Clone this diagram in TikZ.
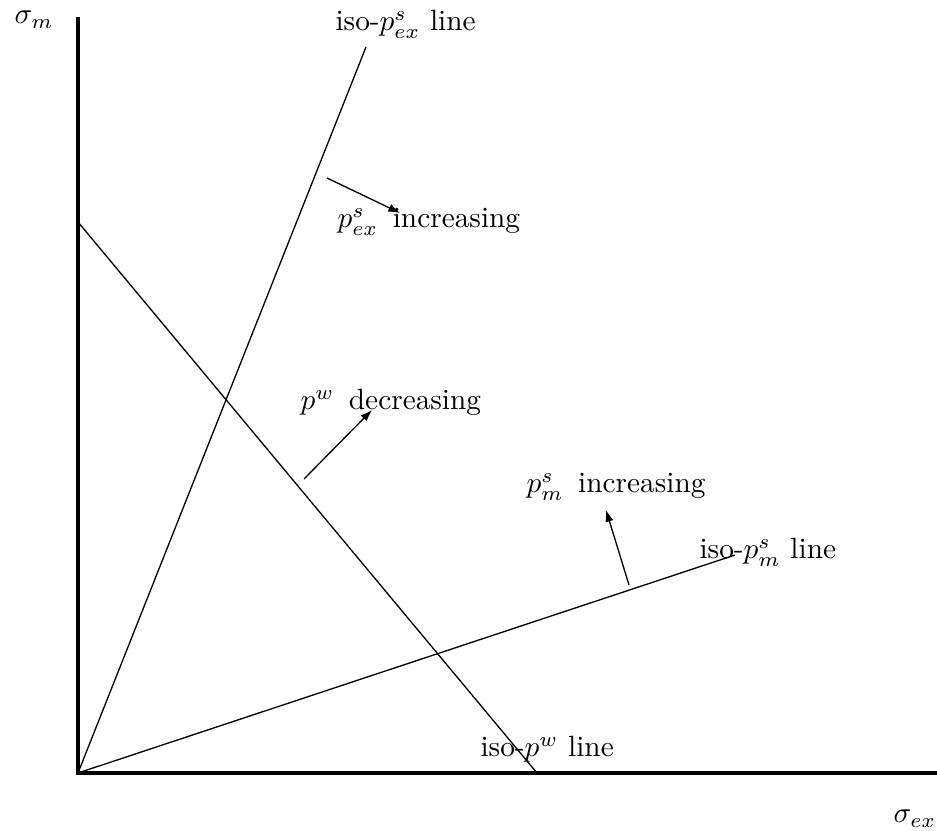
\documentclass[tikz,border=0pt]{standalone}
\usepackage{tikz}
\usetikzlibrary{arrows.meta, positioning}

\begin{document}
\begin{tikzpicture}[x=0.012cm, y=-0.012cm,
    axis/.style={line width=1.3pt},
    isoline/.style={line width=0.45pt},
    push/.style={line width=0.45pt, -{Latex[length=1.4mm, width=1mm]}},
    lbl/.style={anchor=base west, inner sep=0pt}]
          \useasboundingbox (0,0) rectangle (937,831);
          \coordinate (O) at (78,773);
          \coordinate (ytop) at (78,17);
          \coordinate (xend) at (937,773);
          \coordinate (exend) at (366,47);
          \coordinate (mend) at (735,555);
          \coordinate (wtop) at (78,222);
          \coordinate (wbot) at (537,773);
          \draw[axis] (ytop) -- (O) -- (xend);
          \draw[isoline] (O) -- (exend);
          \draw[isoline] (O) -- (mend);
          \draw[isoline] (wtop) -- (wbot);
          \coordinate (exfrom) at (327,178);
          \coordinate (exto) at (400,213);
          \coordinate (wfrom) at (304,479);
          \coordinate (wto) at (372,410);
          \coordinate (mfrom) at (629,585);
          \coordinate (mto) at (606,510);
          \draw[push] (exfrom) -- (exto);
          \draw[push] (wfrom) -- (wto);
          \draw[push] (mfrom) -- (mto);
          \node[lbl] (lblsm) at (14,24) {$\sigma_m$};
          \node[lbl] (lblsex) at (893,823) {$\sigma_{ex}$};
          \node[lbl] (lblexline) at (335,31) {iso-$p^s_{ex}$ line};
          \node[lbl] (lblexinc) at (337,228) {$p^s_{ex}$ \,increasing};
          \node[lbl] (lblwdec) at (300,410) {$p^w$ \,decreasing};
          \node[lbl] (lblminc) at (526,493) {$p^s_m$ \,increasing};
          \node[lbl] (lblmline) at (699,559) {iso-$p^s_m$ line};
          \node[lbl] (lblwline) at (480,757) {iso-$p^w$ line};
        \end{tikzpicture}
\end{document}
